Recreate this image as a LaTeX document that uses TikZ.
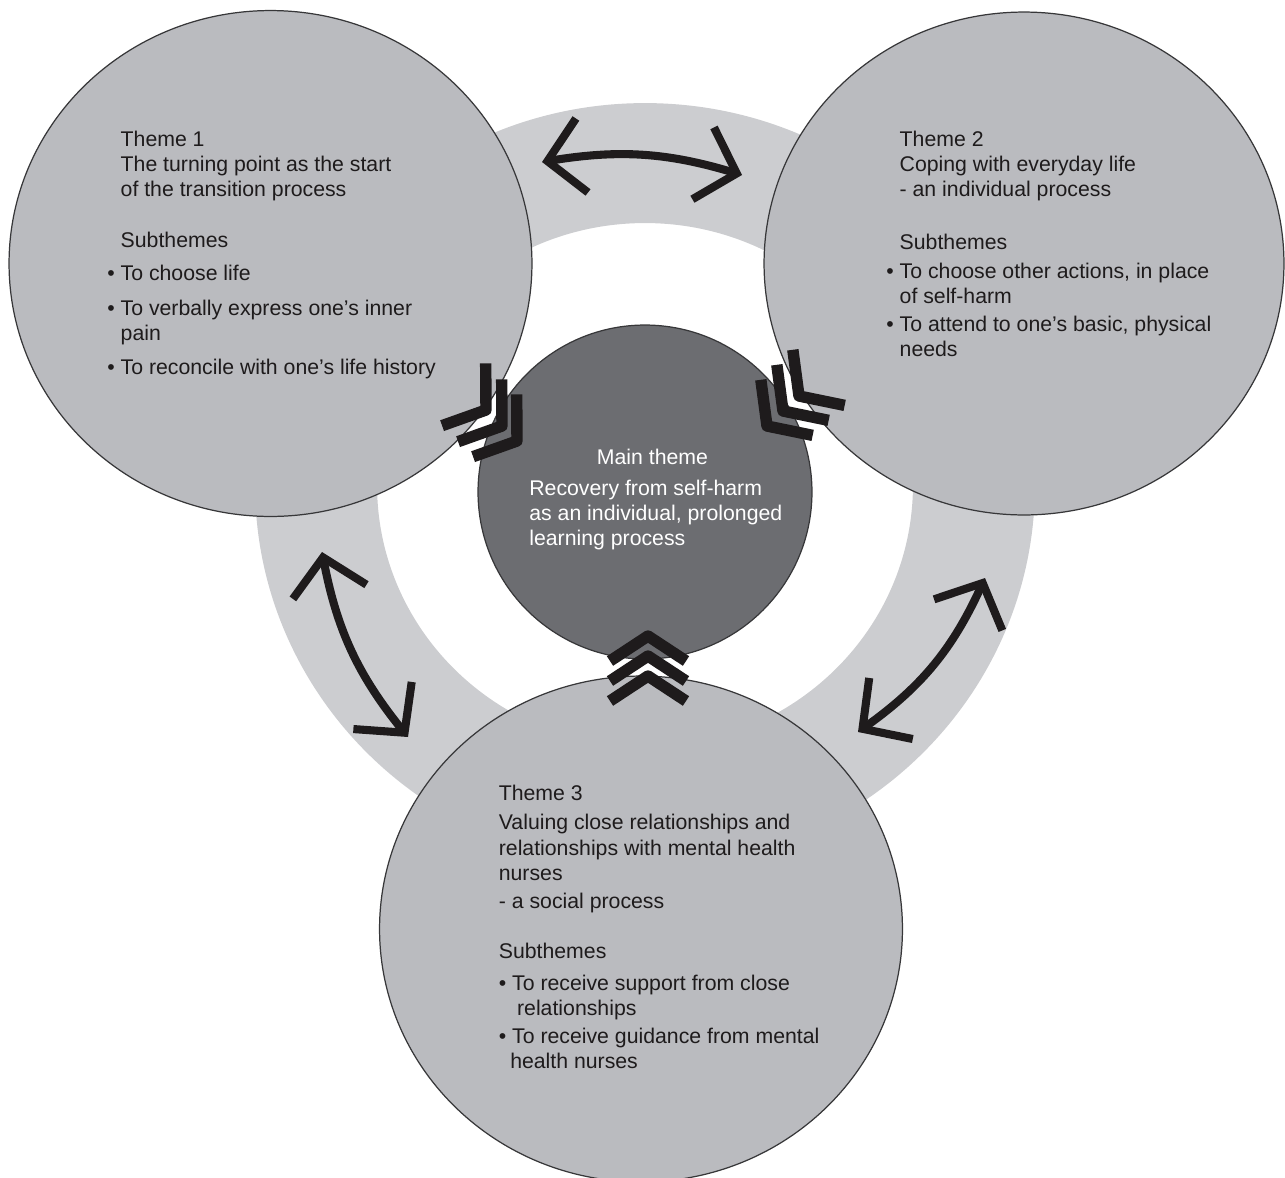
\documentclass[tikz,border=0pt]{standalone}
\usepackage{fontspec}
\setmainfont{Liberation Sans}
\usepackage{tikz}
\usetikzlibrary{positioning}
\usetikzlibrary{arrows.meta}
\usetikzlibrary{shapes.geometric}
\usepackage{xcolor}

\definecolor{themegray}{RGB}{186,187,191}
\definecolor{ringgray}{RGB}{204,205,208}
\definecolor{maingray}{RGB}{108,109,113}
\definecolor{edgegray}{RGB}{55,55,57}
\definecolor{inkblack}{RGB}{30,27,28}

\newcommand{\bulletind}{\phantom{•\ }}

\tikzset{
  theme/.style={ellipse, draw=edgegray, line width=0.7pt, fill=themegray, inner sep=0pt, minimum width=10.46cm, minimum height=10.12cm},
  themetext/.style={anchor=base west, align=left, inner sep=0pt, text=inkblack, font=\fontsize{12.1}{14.2}\selectfont},
  maintext/.style={align=left, inner sep=0pt, text=white, font=\fontsize{12.1}{14.2}\selectfont},
  ringarrow/.style={draw=inkblack, line width=4.6pt, >={Straight Barb[length=0.7cm,width=1.5cm]}, <->},
  chev/.style={draw=inkblack, line width=6.5pt, line join=round}
}

\begin{document}
\begin{tikzpicture}[x=0.02cm, y=-0.02cm]
\useasboundingbox (0,0) rectangle (1285,1177);

\fill[ringgray, even odd rule] (645,485) ellipse [x radius=7.8cm, y radius=7.64cm] (645,485) ellipse [x radius=5.36cm, y radius=5.24cm];

\node[theme] (theme1) at (270.5,263.5) {};
\node[theme, minimum width=10.4cm, minimum height=10.06cm] (theme2) at (1024,263.5) {};
\node[theme] (theme3) at (641,929) {};
\node[circle, draw=edgegray, line width=0.7pt, fill=maingray, minimum size=6.68cm, inner sep=0pt] (main) at (645,492) {};


\node[themetext] (text1) at (107,374) {\bulletind Theme 1\\ \bulletind The turning point as the start\\ \bulletind of the transition process\\[15pt] \bulletind Subthemes\\[4.6pt] • To choose life\\[5.5pt] • To verbally express one's inner\\ \bulletind pain\\[5.1pt] • To reconcile with one's life history};

\node[themetext] (text2) at (886,356) {\bulletind Theme 2\\ \bulletind Coping with everyday life\\ \bulletind - an individual process\\[15.5pt] \bulletind Subthemes\\[2.7pt] • To choose other actions, in place\\ \bulletind of self-harm\\[1.4pt] • To attend to one's basic, physical\\ \bulletind needs};

\node[themetext] (text3) at (498.5,1068) {Theme 3\\[2.5pt] Valuing close relationships and\\[0.8pt] relationships with mental health\\ nurses\\[1.8pt] - a social process\\[14pt] Subthemes\\[4.3pt] • To receive support from close\\ \hspace*{10.4pt}relationships\\[1.3pt] • To receive guidance from mental\\ \hspace*{6.5pt}health nurses};

\node[maintext, anchor=base] (maintitle) at (652.5,464.3) {Main theme};
\node[maintext, anchor=base west] (mainbody) at (529,545) {Recovery from self-harm\\ as an individual, prolonged\\ learning process};


\coordinate (arc12a) at (542,162);
\coordinate (arc12b) at (742,175);
\coordinate (arc13a) at (322,552);
\coordinate (arc13b) at (408,737);
\coordinate (arc23a) at (858,732);
\coordinate (arc23b) at (985,578);

\draw[ringarrow] (arc12a) to[bend left=13] (arc12b);
\draw[ringarrow] (arc13a) to[bend right=14] (arc13b);
\draw[ringarrow] (arc23a) to[bend right=15] (arc23b);


\draw[chev, shift={(486,410)}, rotate=-125] (-38,27)--(0,0)--(38,27);
\draw[chev, shift={(502,426)}, rotate=-125] (-38,27)--(0,0)--(38,27);
\draw[chev, shift={(517,441)}, rotate=-125] (-38,27)--(0,0)--(38,27);

\draw[chev, shift={(767,426)}, rotate=133] (-38,27)--(0,0)--(38,27);
\draw[chev, shift={(783,411)}, rotate=133] (-38,27)--(0,0)--(38,27);
\draw[chev, shift={(799,396)}, rotate=133] (-38,27)--(0,0)--(38,27);

\draw[chev, shift={(648,636)}] (-38,25)--(0,0)--(38,25);
\draw[chev, shift={(648,656)}] (-38,25)--(0,0)--(38,25);
\draw[chev, shift={(648,676)}] (-38,25)--(0,0)--(38,25);

\end{tikzpicture}
\end{document}
